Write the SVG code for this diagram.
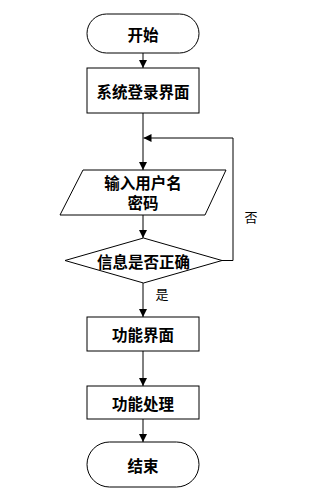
<svg xmlns="http://www.w3.org/2000/svg" width="313" height="499" viewBox="0 0 313 499">
<style>
.s{fill:#fff;stroke:#000;stroke-width:1}
.t{font-family:"Noto Sans CJK SC","Liberation Sans",sans-serif;font-size:15.5px;font-weight:bold;text-anchor:middle;dominant-baseline:central;fill:#000}
.l{font-family:"Noto Sans CJK SC","Liberation Sans",sans-serif;font-size:13px;text-anchor:middle;dominant-baseline:central;fill:#000}
.c{fill:none;stroke:#000;stroke-width:1}
</style>
<defs>
<marker id="a" viewBox="0 0 10 10" refX="10" refY="5" markerWidth="8" markerHeight="8" markerUnits="userSpaceOnUse" orient="auto">
<path d="M0,0 L10,5 L0,10 Z" fill="#000"/>
</marker>
</defs>
<rect width="313" height="499" fill="#fff"/>
<g id="connectors">
<line class="c" x1="143" y1="53" x2="143" y2="68" marker-end="url(#a)"/>
<line class="c" x1="143" y1="113" x2="143" y2="170" marker-end="url(#a)"/>
<polyline class="c" points="222,260.5 233,260.5 233,138 143.5,138" marker-end="url(#a)"/>
<line class="c" x1="143" y1="215" x2="143" y2="238" marker-end="url(#a)"/>
<line class="c" x1="143" y1="283" x2="143" y2="317" marker-end="url(#a)"/>
<line class="c" x1="143" y1="351" x2="143" y2="386" marker-end="url(#a)"/>
<line class="c" x1="143" y1="419" x2="143" y2="442" marker-end="url(#a)"/>
<text class="l" x="251" y="216">否</text>
<text class="l" x="162" y="293">是</text>
</g>
<g id="start">
<rect class="s" x="87" y="14" width="112" height="39" rx="19.5"/>
<text class="t" x="143" y="33.5">开始</text>
</g>
<g id="login">
<rect class="s" x="87" y="68" width="112" height="45"/>
<text class="t" x="143" y="90.5">系统登录界面</text>
</g>
<g id="input">
<polygon class="s" points="83,170 226,170 205,215 60,215"/>
<text class="t" x="143" y="182">输入用户名</text>
<text class="t" x="143" y="202">密码</text>
</g>
<g id="check">
<polygon class="s" points="143.5,238 222,260.5 143.5,283 65,260.5"/>
<text class="t" x="143.5" y="260.5">信息是否正确</text>
</g>
<g id="func">
<rect class="s" x="87" y="317" width="112" height="34"/>
<text class="t" x="143" y="334">功能界面</text>
</g>
<g id="proc">
<rect class="s" x="87" y="386" width="112" height="33"/>
<text class="t" x="143" y="402.5">功能处理</text>
</g>
<g id="end">
<rect class="s" x="87" y="442" width="112" height="45" rx="22.5"/>
<text class="t" x="143" y="464.5">结束</text>
</g>
</svg>
